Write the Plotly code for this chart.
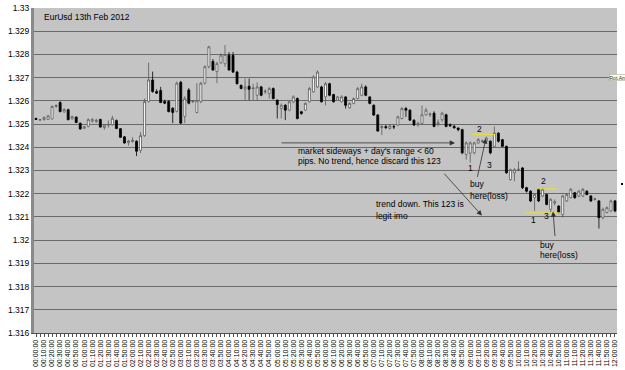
import plotly.graph_objects as go

# 5-minute candles, 00:00 .. 12:00 (145 bars)
times = [f"{m // 60:02d}:{m % 60:02d}:00" for m in range(0, 721, 5)]
tick_labels = times[::2]

open_ = [1.32524, 1.32517, 1.32519, 1.32520, 1.32522, 1.32576, 1.32593, 1.32552, 1.32562, 1.32522,
         1.32530, 1.32504, 1.32482, 1.32490, 1.32513, 1.32510, 1.32520, 1.32485, 1.32495, 1.32497,
         1.32515, 1.32480, 1.32445, 1.32420, 1.32425, 1.32426, 1.32387, 1.32450, 1.32597, 1.32690,
         1.32640, 1.32645, 1.32597, 1.32597, 1.32568, 1.32555, 1.32680, 1.32533, 1.32647, 1.32597,
         1.32550, 1.32597, 1.32676, 1.32747, 1.32770, 1.32726, 1.32764, 1.32760, 1.32797, 1.32796,
         1.32724, 1.32667, 1.32650, 1.32663, 1.32653, 1.32624, 1.32660, 1.32639, 1.32632, 1.32653,
         1.32603, 1.32567, 1.32581, 1.32560, 1.32596, 1.32610, 1.32553, 1.32560, 1.32596, 1.32639,
         1.32660, 1.32660, 1.32617, 1.32674, 1.32627, 1.32603, 1.32596, 1.32617, 1.32570, 1.32589,
         1.32610, 1.32624, 1.32660, 1.32617, 1.32581, 1.32539, 1.32485, 1.32489, 1.32481, 1.32489,
         1.32496, 1.32524, 1.32567, 1.32560, 1.32517, 1.32496, 1.32503, 1.32540, 1.32540, 1.32547,
         1.32500, 1.32519, 1.32540, 1.32497, 1.32490, 1.32483, 1.32476, 1.32369, 1.32375, 1.32376,
         1.32419, 1.32426, 1.32426, 1.32426, 1.32404, 1.32461, 1.32433, 1.32404, 1.32261, 1.32290,
         1.32304, 1.32311, 1.32226, 1.32211, 1.32183, 1.32219, 1.32190, 1.32197, 1.32133, 1.32160,
         1.32147, 1.32110, 1.32169, 1.32183, 1.32204, 1.32190, 1.32190, 1.32211, 1.32190, 1.32176,
         1.32169, 1.32097, 1.32119, 1.32126, 1.32169]

high = [1.32528, 1.32522, 1.32533, 1.32540, 1.32580, 1.32585, 1.32598, 1.32568, 1.32566, 1.32536,
        1.32533, 1.32506, 1.32492, 1.32525, 1.32526, 1.32523, 1.32523, 1.32500, 1.32515, 1.32536,
        1.32520, 1.32483, 1.32448, 1.32432, 1.32443, 1.32430, 1.32465, 1.32610, 1.32764, 1.32726,
        1.32650, 1.32660, 1.32605, 1.32603, 1.32573, 1.32683, 1.32686, 1.32620, 1.32655, 1.32603,
        1.32676, 1.32682, 1.32753, 1.32837, 1.32780, 1.32768, 1.32804, 1.32840, 1.32810, 1.32810,
        1.32730, 1.32670, 1.32696, 1.32696, 1.32674, 1.32680, 1.32665, 1.32650, 1.32660, 1.32658,
        1.32606, 1.32589, 1.32586, 1.32600, 1.32624, 1.32615, 1.32557, 1.32593, 1.32660, 1.32710,
        1.32731, 1.32665, 1.32681, 1.32678, 1.32630, 1.32620, 1.32624, 1.32620, 1.32593, 1.32614,
        1.32660, 1.32674, 1.32667, 1.32620, 1.32585, 1.32543, 1.32495, 1.32496, 1.32500, 1.32496,
        1.32536, 1.32574, 1.32574, 1.32564, 1.32520, 1.32510, 1.32580, 1.32570, 1.32550, 1.32555,
        1.32520, 1.32553, 1.32545, 1.32503, 1.32497, 1.32486, 1.32480, 1.32425, 1.32425, 1.32423,
        1.32440, 1.32433, 1.32446, 1.32430, 1.32490, 1.32465, 1.32436, 1.32407, 1.32308, 1.32310,
        1.32340, 1.32315, 1.32230, 1.32215, 1.32203, 1.32223, 1.32225, 1.32200, 1.32180, 1.32175,
        1.32150, 1.32195, 1.32203, 1.32225, 1.32208, 1.32216, 1.32225, 1.32215, 1.32194, 1.32183,
        1.32173, 1.32140, 1.32145, 1.32175, 1.32173]

low = [1.32518, 1.32515, 1.32516, 1.32518, 1.32520, 1.32570, 1.32550, 1.32550, 1.32516, 1.32520,
       1.32504, 1.32475, 1.32478, 1.32486, 1.32506, 1.32505, 1.32485, 1.32476, 1.32485, 1.32493,
       1.32478, 1.32440, 1.32415, 1.32407, 1.32420, 1.32362, 1.32375, 1.32445, 1.32593, 1.32635,
       1.32630, 1.32590, 1.32586, 1.32550, 1.32504, 1.32550, 1.32500, 1.32504, 1.32585, 1.32590,
       1.32546, 1.32590, 1.32670, 1.32740, 1.32730, 1.32676, 1.32760, 1.32747, 1.32730, 1.32720,
       1.32670, 1.32650, 1.32603, 1.32603, 1.32603, 1.32603, 1.32620, 1.32630, 1.32610, 1.32606,
       1.32524, 1.32524, 1.32517, 1.32555, 1.32590, 1.32520, 1.32540, 1.32556, 1.32593, 1.32635,
       1.32656, 1.32593, 1.32581, 1.32620, 1.32593, 1.32600, 1.32593, 1.32567, 1.32567, 1.32585,
       1.32606, 1.32620, 1.32620, 1.32585, 1.32535, 1.32467, 1.32453, 1.32478, 1.32476, 1.32478,
       1.32492, 1.32520, 1.32531, 1.32513, 1.32492, 1.32489, 1.32500, 1.32536, 1.32530, 1.32486,
       1.32490, 1.32510, 1.32486, 1.32488, 1.32480, 1.32469, 1.32370, 1.32347, 1.32333, 1.32370,
       1.32415, 1.32420, 1.32423, 1.32370, 1.32400, 1.32420, 1.32400, 1.32286, 1.32256, 1.32254,
       1.32297, 1.32220, 1.32205, 1.32164, 1.32126, 1.32164, 1.32185, 1.32150, 1.32119, 1.32150,
       1.32115, 1.32097, 1.32164, 1.32180, 1.32178, 1.32185, 1.32185, 1.32193, 1.32164, 1.32170,
       1.32050, 1.32090, 1.32115, 1.32120, 1.32120]

close = [1.32520, 1.32519, 1.32528, 1.32535, 1.32576, 1.32580, 1.32554, 1.32563, 1.32519, 1.32532,
         1.32507, 1.32479, 1.32488, 1.32519, 1.32519, 1.32516, 1.32487, 1.32495, 1.32498, 1.32525,
         1.32481, 1.32443, 1.32419, 1.32427, 1.32430, 1.32383, 1.32450, 1.32597, 1.32690, 1.32640,
         1.32633, 1.32593, 1.32590, 1.32554, 1.32550, 1.32676, 1.32504, 1.32611, 1.32590, 1.32598,
         1.32600, 1.32676, 1.32747, 1.32833, 1.32733, 1.32760, 1.32797, 1.32800, 1.32733, 1.32724,
         1.32674, 1.32653, 1.32660, 1.32650, 1.32655, 1.32660, 1.32624, 1.32641, 1.32653, 1.32610,
         1.32584, 1.32581, 1.32560, 1.32596, 1.32617, 1.32524, 1.32546, 1.32589, 1.32653, 1.32703,
         1.32724, 1.32596, 1.32674, 1.32624, 1.32596, 1.32617, 1.32617, 1.32581, 1.32589, 1.32610,
         1.32653, 1.32660, 1.32624, 1.32589, 1.32539, 1.32470, 1.32489, 1.32485, 1.32492, 1.32488,
         1.32531, 1.32567, 1.32560, 1.32517, 1.32496, 1.32503, 1.32540, 1.32560, 1.32543, 1.32490,
         1.32506, 1.32547, 1.32490, 1.32493, 1.32484, 1.32476, 1.32376, 1.32419, 1.32419, 1.32419,
         1.32433, 1.32427, 1.32440, 1.32376, 1.32461, 1.32426, 1.32404, 1.32290, 1.32304, 1.32304,
         1.32305, 1.32226, 1.32211, 1.32169, 1.32197, 1.32169, 1.32219, 1.32154, 1.32176, 1.32165,
         1.32119, 1.32190, 1.32197, 1.32219, 1.32183, 1.32211, 1.32219, 1.32197, 1.32169, 1.32177,
         1.32097, 1.32133, 1.32140, 1.32169, 1.32126]

y_ticks = [1.316, 1.317, 1.318, 1.319, 1.32, 1.321, 1.322, 1.323, 1.324, 1.325,
           1.326, 1.327, 1.328, 1.329, 1.33]
y_tick_text = ["1.316", "1.317", "1.318", "1.319", "1.32", "1.321", "1.322", "1.323", "1.324",
               "1.325", "1.326", "1.327", "1.328", "1.329", "1.33"]

FONT = "Arial, Liberation Sans, sans-serif"
idx = list(range(len(times)))

fig = go.Figure(go.Candlestick(
    x=idx, open=open_, high=high, low=low, close=close,
    increasing=dict(fillcolor="white", line=dict(color="#5a5a5a", width=0.8)),
    decreasing=dict(fillcolor="black", line=dict(color="black", width=0.8)),
    whiskerwidth=0, hoverinfo="skip", showlegend=False,
))

txt = dict(font=dict(family=FONT, size=8.5, color="black"), showarrow=False,
           xref="x", yref="y", xanchor="left", yanchor="middle")
annotations = [
    dict(text="EurUsd 13th Feb 2012", x=1.5, y=1.32963, **txt),
    dict(text="market sideways + day's range < 60", x=64.7, y=1.32386, **txt),
    dict(text="pips. No trend, hence discard this 123", x=64.7, y=1.32340, **txt),
    dict(text="trend down. This 123 is", x=84.0, y=1.32154, **txt),
    dict(text="legit imo", x=84.0, y=1.32106, **txt),
    dict(text="buy", x=107.5, y=1.32240, **txt),
    dict(text="here(loss)", x=107.5, y=1.32192, **txt),
    dict(text="buy", x=124.9, y=1.31981, **txt),
    dict(text="here(loss)", x=124.9, y=1.31934, **txt),
]
num = dict(font=dict(family=FONT, size=8.5, color="black"), showarrow=False,
           xref="x", yref="y", xanchor="center", yanchor="middle")
annotations += [
    dict(text="1", x=108.0, y=1.32309, **num),
    dict(text="2", x=110.4, y=1.32480, **num),
    dict(text="3", x=112.9, y=1.32322, **num),
    dict(text="2", x=126.2, y=1.32254, **num),
    dict(text="1", x=123.7, y=1.32086, **num),
    dict(text="3", x=127.0, y=1.32106, **num),
]
arr = dict(text="", showarrow=True, xref="x", yref="y", axref="x", ayref="y",
           arrowhead=2, arrowsize=1.3, arrowwidth=0.8, arrowcolor="#303030")
annotations += [
    dict(x=104.2, y=1.32419, ax=60.7, ay=1.32419, **arr),
    dict(x=110.9, y=1.32106, ax=101.2, ay=1.32293, **arr),
    dict(x=111.9, y=1.32438, ax=109.7, ay=1.32266, **arr),
    dict(x=128.6, y=1.32123, ax=129.1, ay=1.32011, **arr),
]
annotations.append(dict(text="Rot.Am", xref="paper", yref="paper", x=0.9863, y=0.786,
                        xanchor="left", yanchor="middle", showarrow=False,
                        font=dict(family=FONT, size=5, color="#333"),
                        bgcolor="#ffffe1", bordercolor="#999", borderwidth=0.5, borderpad=0))

yel = dict(type="line", xref="x", yref="y", line=dict(color="#e8df3a", width=1))
shapes = [
    dict(x0=108.4, x1=114.2, y0=1.32455, y1=1.32455, **yel),
    dict(x0=124.7, x1=129.5, y0=1.32221, y1=1.32221, **yel),
    dict(x0=121.6, x1=130.3, y0=1.32118, y1=1.32118, **yel),
    dict(type="rect", xref="paper", yref="paper", x0=1.0069, x1=1.0103, y0=0.4554, y1=0.4615,
         fillcolor="black", line=dict(width=0)),
]

fig.update_layout(
    width=625, height=370,
    margin=dict(l=34, r=8, t=8, b=37, autoexpand=False),
    paper_bgcolor="white", plot_bgcolor="#c4c4c4",
    font=dict(family=FONT, size=8.5, color="black"),
    annotations=annotations, shapes=shapes,
    xaxis=dict(
        range=[-0.5, len(times) - 0.5], rangeslider=dict(visible=False),
        tickmode="array", tickvals=idx[::2], ticktext=tick_labels,
        tickangle=-90, tickfont=dict(family=FONT, size=7, color="black"),
        showgrid=False, zeroline=False, automargin=False,
        showline=True, linecolor="#505050", linewidth=1,
        ticks="outside", ticklen=3, tickcolor="#505050", tickwidth=1,
        minor=dict(ticks="outside", tickmode="linear", tick0=0, dtick=1, ticklen=3,
                   tickcolor="#505050", showgrid=False),
    ),
    yaxis=dict(
        range=[1.316, 1.33], tickmode="array", tickvals=y_ticks, ticktext=y_tick_text,
        tickfont=dict(family=FONT, size=8.5, color="black"), automargin=False,
        showgrid=True, gridcolor="#6a6a6a", gridwidth=1.2, zeroline=False,
        showline=True, linecolor="#8a8a8a", linewidth=3, ticks="",
    ),
)

fig.write_html("out.html")
